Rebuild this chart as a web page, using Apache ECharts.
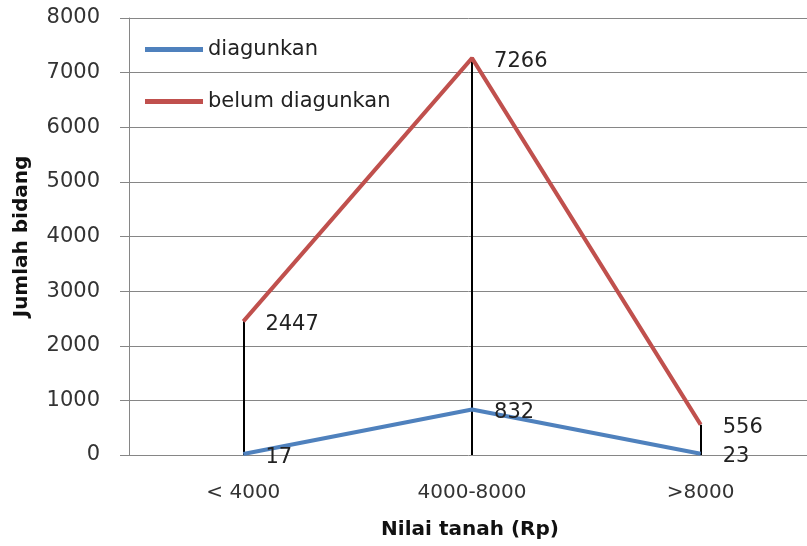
<!DOCTYPE html>
<html>
<head>
<meta charset="utf-8">
<script src="https://cdn.jsdelivr.net/npm/echarts@6/dist/echarts.min.js"></script>
<style>
  html, body { margin: 0; padding: 0; background: #ffffff; }
  #chart { width: 807px; height: 546px; }
</style>
</head>
<body>
<div id="chart"></div>
<script>
// Land-value classes on the x axis
const categories = ['< 4000', '4000-8000', '>8000'];
// Parcel counts per class
const diagunkan = [17, 832, 23];
const belumDiagunkan = [2447, 7266, 556];
// Y axis scale
const yMin = 0;
const yMax = 8000;
const yStep = 1000;

const FONT = 'DejaVu Sans';

// Vertical drop lines from the higher series down to the axis
const dropLines = categories.map((c, i) => [
  { coord: [i, 0] },
  { coord: [i, Math.max(diagunkan[i], belumDiagunkan[i])] }
]);

const valueLabel = {
  show: true,
  position: 'right',
  distance: 22,
  offset: [0, 3],
  fontFamily: FONT,
  fontSize: 21,
  color: '#222'
};

const chart = echarts.init(document.getElementById('chart'), null, { renderer: 'canvas' });
chart.setOption({
  animation: false,
  backgroundColor: '#ffffff',
  grid: {
    left: 129, width: 686, top: 18, height: 437,
    containLabel: false,
    outerBoundsMode: 'none'
  },
  legend: {
    orient: 'vertical',
    left: 140,
    top: 32,
    itemWidth: 58,
    itemHeight: 5,
    itemGap: 27,
    icon: 'rect',
    textStyle: { fontFamily: FONT, fontSize: 21, color: '#222', lineHeight: 25 },
    data: ['diagunkan', 'belum diagunkan']
  },
  xAxis: {
    type: 'category',
    data: categories,
    boundaryGap: true,
    name: 'Nilai tanah (Rp)',
    nameLocation: 'middle',
    nameGap: 65,
    nameTextStyle: { fontFamily: FONT, fontSize: 20, fontWeight: 'bold', color: '#111', padding: [0, 4, 0, 0] },
    axisLine: { show: false },
    axisTick: { show: false },
    axisLabel: { margin: 28, fontFamily: FONT, fontSize: 20, color: '#333' },
    splitLine: { show: false }
  },
  yAxis: {
    type: 'value',
    min: yMin,
    max: yMax,
    interval: yStep,
    name: 'Jumlah bidang',
    nameLocation: 'middle',
    nameGap: 97,
    nameTextStyle: { fontFamily: FONT, fontSize: 20, fontWeight: 'bold', color: '#111' },
    axisLine: { show: true, lineStyle: { color: '#868686', width: 1 } },
    axisTick: { show: true, inside: false, length: 9, lineStyle: { color: '#868686' } },
    axisLabel: { margin: 29, fontFamily: FONT, fontSize: 21, color: '#333', formatter: v => String(v) },
    splitLine: { show: true, lineStyle: { color: '#868686', width: 1 } }
  },
  series: [
    {
      name: 'belum diagunkan',
      type: 'line',
      data: belumDiagunkan,
      z: 2,
      symbol: 'circle',
      symbolSize: 0.1,
      itemStyle: { color: '#c0504d' },
      lineStyle: { color: '#c0504d', width: 4 },
      label: valueLabel,
      markLine: {
        silent: true,
        symbol: ['none', 'none'],
        label: { show: false },
        lineStyle: { color: '#000', width: 2, type: 'solid' },
        data: dropLines,
        z: 1
      }
    },
    {
      name: 'diagunkan',
      type: 'line',
      data: diagunkan,
      z: 3,
      symbol: 'circle',
      symbolSize: 0.1,
      itemStyle: { color: '#4f81bd' },
      lineStyle: { color: '#4f81bd', width: 4 },
      label: valueLabel
    }
  ]
});
</script>
</body>
</html>
